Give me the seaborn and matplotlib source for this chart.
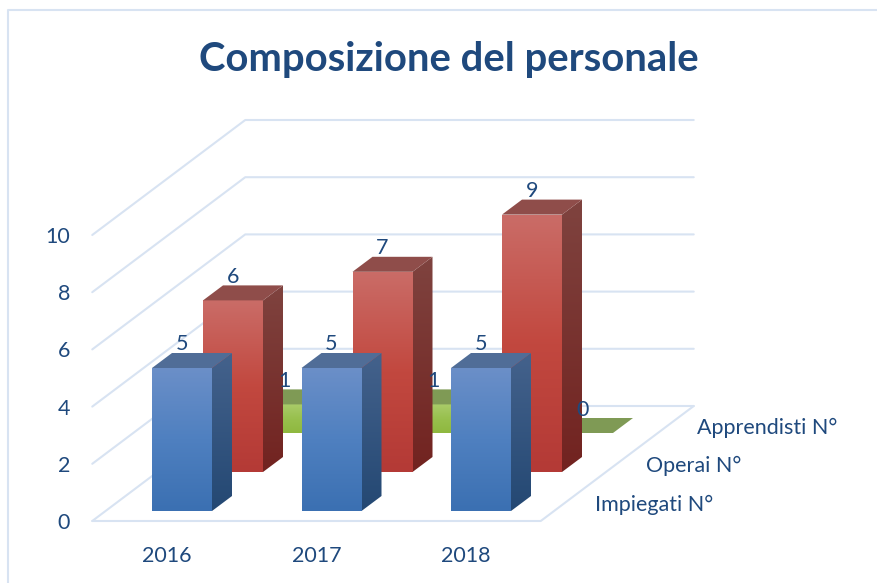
import numpy as np
import pandas as pd
import seaborn as sns
import matplotlib.pyplot as plt
from matplotlib.colors import to_rgb
from matplotlib.lines import Line2D
from matplotlib.patches import Polygon

anni = ['2016', '2017', '2018']
serie = ['Impiegati N°', 'Operai N°', 'Apprendisti N°']
impiegati = [5, 5, 5]
operai = [6, 7, 9]
apprendisti = [1, 1, 0]
y_ticks = [0, 2, 4, 6, 8, 10]
titolo = 'Composizione del personale'

W, H = 878, 583
PX_X = 149.5   # pixel per categoria
PX_Y = 28.6    # pixel per unita
X0, Y0 = 167, 521

TXT = '#1f497d'
GRID = '#d8e3f2'
FS = 15.5

# fronte alto/medio/basso, lato alto/basso, faccia superiore
colori = [
    ['#6b8fc8', '#4f80c0', '#3b70b2', '#44628c', '#244873', '#506d97'],
    ['#ca6c67', '#c2483f', '#b43a36', '#7f433f', '#722320', '#8f4d4a'],
    ['#a9cb69', '#98c04e', '#8fb83f', '#6f8a45', '#6f8a45', '#7f9a55'],
]

sns.set_style('white')
plt.rcParams['font.family'] = ['Lato', 'DejaVu Sans']

df = pd.DataFrame({'anno': anni, serie[0]: impiegati, serie[1]: operai, serie[2]: apprendisti})

fig = plt.figure(figsize=(W / 100, H / 100), dpi=100)
ax = fig.add_axes([0, 0, 1, 1])
ax.patch.set_alpha(0)

dx = lambda px: px / PX_X
dy = lambda px: px / PX_Y


def sfumato(ax, stops, poly, z):
    # gradiente verticale ritagliato sul poligono
    xs, ys = poly[:, 0], poly[:, 1]
    pos = np.linspace(0, 1, len(stops))
    t = np.linspace(0, 1, 64)
    rgb = np.array([to_rgb(c) for c in stops])
    img = np.stack([np.interp(t, pos, rgb[:, k]) for k in range(3)], axis=1)[:, None, :]
    im = ax.imshow(img, extent=[xs.min(), xs.max(), ys.min(), ys.max()], origin='upper',
                   aspect='auto', zorder=z, interpolation='bilinear')
    clip = Polygon(poly, closed=True, transform=ax.transData, fc='none', ec='none')
    ax.add_patch(clip)
    im.set_clip_path(clip)


# griglia di fondo
wall_x, wall_y = dx(153), dy(115)
left, right = -0.5, 2.5
for v in y_ticks:
    ax.plot([left, left + wall_x, right + wall_x],
            [v, v + wall_y, v + wall_y], color=GRID, lw=1.5, zorder=0.5)
ax.plot([left, right, right + wall_x], [0, 0, wall_y], color=GRID, lw=1.5, zorder=0.5)

# barre: le facce frontali vengono da seaborn, poi si aggiunge la profondita
for i, nome in enumerate(serie):
    n_prima = len(ax.patches)
    sns.barplot(data=df, x='anno', y=nome, order=anni, width=60 / PX_X, color=colori[i][1], ax=ax,
                saturation=1)
    bars = list(ax.patches[n_prima:])
    sx, sy = dx(15 + 51 * i), dy(10 + 39 * i)
    z = {0: 3, 1: 2, 2: 1}[i]
    for bar, val in zip(bars, df[nome]):
        x0 = bar.get_x() + sx
        x1 = x0 + bar.get_width()
        y0 = sy
        y1 = sy + bar.get_height()
        d_x, d_y = dx(20), dy(15)
        bar.set_visible(False)
        fronte = np.array([[x0, y0], [x1, y0], [x1, y1], [x0, y1]])
        lato = np.array([[x1, y0], [x1 + d_x, y0 + d_y], [x1 + d_x, y1 + d_y], [x1, y1]])
        sopra = np.array([[x0, y1], [x1, y1], [x1 + d_x, y1 + d_y], [x0 + d_x, y1 + d_y]])
        if val > 0:
            sfumato(ax, colori[i][:3], fronte, z)
            sfumato(ax, colori[i][3:5], lato, z)
        ax.add_patch(Polygon(sopra, closed=True, fc=colori[i][5], ec='none', zorder=z))
        ax.text((x0 + x1) / 2, y1 + dy(23.5), str(val), ha='center', va='center',
                color=TXT, fontsize=FS, zorder=5)

    # etichette di serie sul lato destro
    ax.text(right + dx(54 + 51 * i), dy(16.5 + 38.5 * i), nome, ha='left', va='center',
            color=TXT, fontsize=FS, zorder=5)

ax.set_xlim(-X0 / PX_X, (W - X0) / PX_X)
ax.set_ylim((Y0 - H) / PX_Y, Y0 / PX_Y)
ax.set_xlabel('')
ax.set_ylabel('')
ax.set_xticks(range(len(anni)))
ax.set_xticklabels(anni, color=TXT, fontsize=FS)
ax.set_yticks(y_ticks)
ax.set_yticklabels(y_ticks, color=TXT, fontsize=FS)
ax.tick_params(axis='x', length=0, pad=-26.5, bottom=False)
ax.tick_params(axis='y', length=0, pad=-50.5, left=False)
sns.despine(ax=ax, left=True, bottom=True)

# cornice: solo sinistra e alto, il resto e tagliato
fig.add_artist(Line2D([8 / W, 8 / W, 1], [0, 1 - 10 / H, 1 - 10 / H], transform=fig.transFigure,
                      color=GRID, lw=1.5))
fig.text(448.5 / W, 1 - 59 / H, titolo, ha='center', va='center', color=TXT,
         fontsize=28.8, fontweight='bold')

fig.savefig('out.png', dpi=100)
